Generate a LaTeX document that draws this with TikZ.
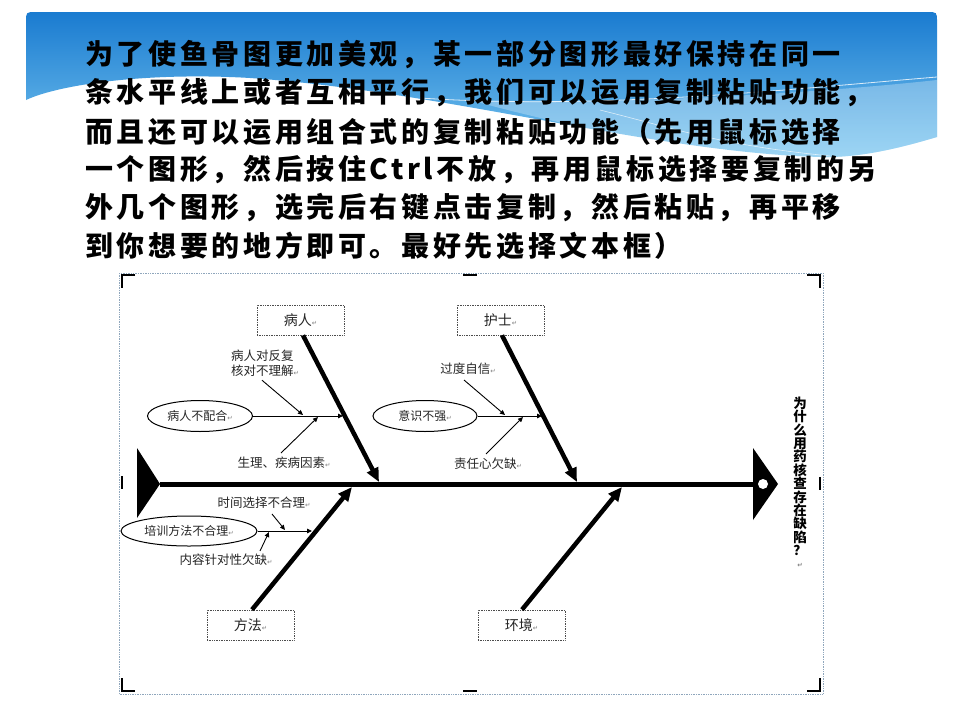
\documentclass[tikz,border=0pt]{standalone}
\usepackage{fontspec}
\setmainfont{Liberation Sans}
\newfontfamily\cjk{Noto Sans CJK SC}
\newfontfamily\cjkhead[LetterSpace=13]{Noto Sans CJK SC}
\newfontfamily\symf{DejaVu Sans}
\usetikzlibrary{arrows.meta,shapes.geometric}
\definecolor{hdrtop}{HTML}{1A7BD0}
\definecolor{hdrbot}{HTML}{78C6F0}
\definecolor{framec}{HTML}{8FA6BC}
\newcommand\retmark{{\symf\fontsize{6.5}{6.5}\selectfont\color{gray}↵}}
\begin{document}
\begin{tikzpicture}[x=1pt,y=-1pt,
  catbox/.style={draw=black!70, densely dotted, line width=0.7pt, minimum width=87pt, minimum height=30pt, inner sep=0pt, font=\cjk\fontsize{14}{16}\selectfont, text=black!85},
  causeell/.style={ellipse, draw, line width=1pt, inner sep=0pt, font=\cjk\fontsize{12}{13}\selectfont, text=black!85},
  lbl/.style={font=\cjk\fontsize{12.5}{14.5}\selectfont, align=left, inner sep=0pt, text=black!85},
  hdr/.style={anchor=west, inner sep=0pt, font=\cjkhead\bfseries\fontsize{28}{28}\selectfont, text=black},
  bone/.style={line width=4.5pt, -{Triangle[length=14pt,width=12pt]}},
  twig/.style={line width=0.9pt, -{Triangle[length=5pt,width=4.5pt]}},
  crop/.style={line width=2.5pt}
]
\useasboundingbox (0,0) rectangle (960,720);
\fill[white] (0,0) rectangle (960,720);

% header background
\shade[top color=hdrtop, bottom color=hdrbot]
  (26,100) -- (26,22) .. controls (26,12) .. (36,12) -- (927,12)
  .. controls (937,12) .. (937,22) -- (937,137)
  .. controls (900,148) and (860,158) .. (820,157)
  .. controls (650,152) and (450,92) .. (250,78)
  .. controls (150,72) and (60,84) .. (26,100) -- cycle;
\fill[white, opacity=0.28]
  (937,80) .. controls (800,95) and (600,105) .. (470,100)
  .. controls (560,125) and (700,155) .. (820,157)
  .. controls (860,158) and (900,148) .. (937,137) -- cycle;
\draw[white, line width=0.8pt, opacity=0.8]
  (420,98) .. controls (600,110) and (780,90) .. (937,77);
\draw[white, line width=0.6pt, opacity=0.7]
  (600,110) .. controls (680,130) and (720,145) .. (830,156);

% header text
\node[hdr] (h1) at (85,55)  {为了使鱼骨图更加美观，某一部分图形最好保持在同一};
\node[hdr] (h2) at (85,93)  {条水平线上或者互相平行，我们可以运用复制粘贴功能，};
\node[hdr] (h3) at (85,132) {而且还可以运用组合式的复制粘贴功能（先用鼠标选择};
\node[hdr] (h4) at (85,170) {一个图形，然后按住Ctrl不放，再用鼠标选择要复制的另};
\node[hdr] (h5) at (85,208) {外几个图形，选完后右键点击复制，然后粘贴，再平移};
\node[hdr] (h6) at (85,246) {到你想要的地方即可。最好先选择文本框）};

% frame and crop marks
\draw[densely dotted, color=framec, line width=0.7pt] (119,273) rectangle (823,694);
\draw[crop] (135,275) -- (122,275) -- (122,288);
\draw[crop] (463,275) -- (477,275);
\draw[crop] (807,275) -- (820,275) -- (820,288);
\draw[crop] (122,476) -- (122,489);
\draw[crop] (820,477) -- (820,490);
\draw[crop] (122,678) -- (122,691) -- (135,691);
\draw[crop] (463,691) -- (477,691);
\draw[crop] (807,691) -- (820,691) -- (820,678);

% spine, tail, head
\coordinate (tailtip) at (160,484);
\coordinate (headbase) at (753,484);
\draw[line width=5pt] (tailtip) -- (headbase);
\fill (137,448) -- (tailtip) -- (137,518) -- cycle;
\fill (753,448) -- (778,484) -- (753,520) -- cycle;
\fill[white] (763,484) circle (5);

% category boxes
\node[catbox] (bingren) at (300.5,320) {病人\retmark};
\node[catbox] (hushi)   at (500.5,320) {护士\retmark};
\node[catbox] (fangfa)  at (250.5,625) {方法\retmark};
\node[catbox] (huanjing) at (521.5,625) {环境\retmark};

% spine points
\coordinate (s1) at (379,482);
\coordinate (s2) at (577,482);
\coordinate (s3) at (352,487);
\coordinate (s4) at (622,487);
\draw[bone] ([xshift=2.5pt]bingren.south) -- (s1);
\draw[bone] ([xshift=1.5pt]hushi.south) -- (s2);
\draw[bone] ([xshift=1.5pt]fangfa.north) -- (s3);
\draw[bone] ([xshift=0.5pt]huanjing.north) -- (s4);

% cause ellipses
\node[causeell, minimum width=105pt, minimum height=31pt] (e1) at (200,416) {病人不配合\retmark};
\node[causeell, minimum width=104pt, minimum height=31pt] (e2) at (425,416) {意识不强\retmark};
\node[causeell, minimum width=136pt, minimum height=30pt] (e3) at (189,531) {培训方法不合理\retmark};
\coordinate (b1) at (343,416);
\coordinate (b2) at (542,416);
\coordinate (b3) at (312,531);
\draw[twig] (e1.east) -- (b1);
\draw[twig] (e2.east) -- (b2);
\draw[twig] (e3.east) -- (b3);

% sub-causes
\node[lbl] (t1) at (265,363) {病人对反复\\核对不理解\retmark};
\node[lbl] (t2) at (284,463) {生理、疾病因素\retmark};
\node[lbl] (t3) at (468,369) {过度自信\retmark};
\node[lbl] (t4) at (488,464) {责任心欠缺\retmark};
\node[lbl] (t5) at (264,503) {时间选择不合理\retmark};
\node[lbl] (t6) at (226,560) {内容针对性欠缺\retmark};
\coordinate (c1) at (303,415);
\coordinate (c2) at (318,417);
\coordinate (c3) at (505,415);
\coordinate (c4) at (523,417);
\coordinate (c5) at (285,530);
\coordinate (c6) at (269,532);
\draw[twig] ([xshift=-3pt,yshift=-4pt]t1.south) -- (c1);
\draw[twig] ([xshift=-3pt,yshift=4pt]t2.north) -- (c2);
\draw[twig] ([xshift=-4pt,yshift=-5pt]t3.south) -- (c3);
\draw[twig] ([xshift=-2pt,yshift=4pt]t4.north) -- (c4);
\draw[twig] ([xshift=8pt,yshift=-5pt]t5.south) -- (c5);
\draw[twig] ([xshift=34pt,yshift=3pt]t6.north) -- (c6);

% effect (vertical title)
\node[font=\cjk\bfseries\fontsize{13.5}{13.4}\selectfont, align=center, inner sep=0pt] (effect) at (800,482)
  {为\\什\\么\\用\\药\\核\\查\\存\\在\\缺\\陷\\？\\[-2pt]\retmark};
\end{tikzpicture}
\end{document}
